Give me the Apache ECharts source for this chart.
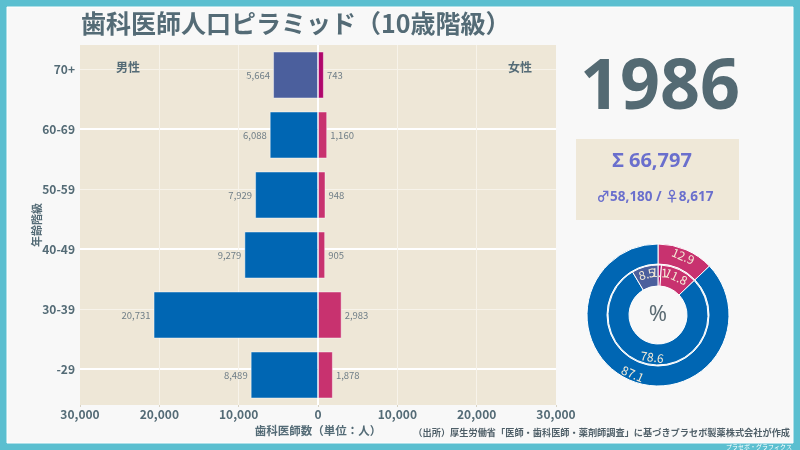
<!DOCTYPE html>
<html><head><meta charset="utf-8">
<script src="https://cdn.jsdelivr.net/npm/echarts@6/dist/echarts.min.js"></script>
<style>html,body{margin:0;padding:0;background:#5bbfd0}#c{width:800px;height:450px}</style>
</head><body><div id="c"></div>
<script>
const year = '1986';
const ageGroups = ['70+', '60-69', '50-59', '40-49', '30-39', '-29'];
const male = [5664, 6088, 7929, 9279, 20731, 8489];
const female = [743, 1160, 948, 905, 2983, 1878];
const xTicks = [-30000, -20000, -10000, 0, 10000, 20000, 30000];

const FONT = '"Noto Sans CJK JP", "Noto Sans", sans-serif';
const C_MALE = '#0066b3', C_MALE_HI = '#4b5f9d', C_FEM = '#c8326f', C_FEM_HI = '#b0076b';
const GRAY = '#546b76';
const fmt = v => Math.abs(v).toLocaleString('en-US');

const maleTotal = male.reduce((a, b) => a + b, 0);
const femTotal = female.reduce((a, b) => a + b, 0);
const total = maleTotal + femTotal;
const pct = v => +(v / total * 100).toFixed(1);

const chart = echarts.init(document.getElementById('c'), null, {renderer: 'canvas'});
const pieLabel = {show: true, position: 'inside', rotate: 'tangential', color: '#f3ead6', fontSize: 12, fontFamily: FONT, formatter: p => p.value.toFixed(1)};

chart.setOption({
  backgroundColor: '#5bbfd0',
  animation: false,
  textStyle: {fontFamily: FONT},
  title: {text: '歯科医師人口ピラミッド（10歳階級）', left: 76, top: 6, textStyle: {fontSize: 25, fontWeight: 'bold', color: GRAY, fontFamily: FONT}},
  graphic: [
    {type: 'rect', z: -10, shape: {x: 7, y: 7, width: 786, height: 436}, style: {fill: '#f8f8f8', stroke: '#ffffff', lineWidth: 1}},
    {type: 'text', z: 10, x: 128, y: 67, style: {text: '男性', font: 'bold 12px ' + FONT, fill: GRAY, align: 'center', verticalAlign: 'middle'}},
    {type: 'text', z: 10, x: 520, y: 67, style: {text: '女性', font: 'bold 12px ' + FONT, fill: GRAY, align: 'center', verticalAlign: 'middle'}},
    {type: 'text', x: 660, y: 89, style: {text: year, font: 'bold 70px "Noto Sans", ' + FONT, fill: '#546a73', align: 'center', verticalAlign: 'middle'}},
    {type: 'rect', shape: {x: 576, y: 139, width: 163, height: 81}, style: {fill: '#efe8d8'}},
    {type: 'text', x: 652, y: 161, style: {text: 'Σ ' + total.toLocaleString('en-US'), font: 'bold 20px "Noto Sans", ' + FONT, fill: '#6a6fcd', align: 'center', verticalAlign: 'middle'}},
    {type: 'text', x: 655, y: 197, style: {text: '♂' + maleTotal.toLocaleString('en-US') + ' / ♀' + femTotal.toLocaleString('en-US'), font: 'bold 13.5px "Noto Sans", ' + FONT, fill: '#6a6fcd', align: 'center', verticalAlign: 'middle'}},
    {type: 'text', z: 10, x: 658, y: 315, style: {text: '%', font: '22px "Noto Sans", ' + FONT, fill: '#5b6b73', align: 'center', verticalAlign: 'middle'}},
    {type: 'text', x: 790, y: 433, style: {text: '（出所）厚生労働省「医師・歯科医師・薬剤師調査」に基づきプラセボ製薬株式会社が作成', font: 'bold 9.2px ' + FONT, fill: '#4f5f68', align: 'right', verticalAlign: 'middle'}},
    {type: 'text', x: 792, y: 447, style: {text: 'プラセボ・グラフィクス', font: '6px ' + FONT, fill: '#ffffff', align: 'right', verticalAlign: 'middle'}}
  ],
  grid: [
    {left: 80, right: 244, top: 45, bottom: 45, show: true, backgroundColor: '#eee7d7', borderWidth: 0},
    {left: 80, right: 244, top: 69, bottom: 81, show: false}
  ],
  xAxis: [
    {type: 'value', gridIndex: 0, min: xTicks[0], max: xTicks[xTicks.length - 1], interval: xTicks[1] - xTicks[0],
     axisLine: {show: false}, axisTick: {show: true, length: 2, lineStyle: {color: '#d8d2c4'}},
     axisLabel: {margin: 3, fontSize: 12, fontWeight: 'bold', color: GRAY, formatter: v => fmt(v)},
     splitLine: {show: true, showMinLine: false, showMaxLine: false, lineStyle: {color: '#f7f3ea', width: 1}},
     name: '歯科医師数（単位：人）', nameLocation: 'middle', nameGap: 16, nameTextStyle: {fontSize: 11.5, fontWeight: 'bold', color: GRAY}},
    {type: 'value', gridIndex: 0, min: -30000, max: 30000, interval: 30000, position: 'top',
     axisLine: {show: false}, axisTick: {show: false}, axisLabel: {show: false},
     splitLine: {show: true, showMinLine: false, showMaxLine: false, lineStyle: {color: '#ffffff', width: 2}}},
    {type: 'value', gridIndex: 1, min: -30000, max: 30000, show: false, splitLine: {show: false}}
  ],
  yAxis: [
    {type: 'category', gridIndex: 0, data: ageGroups, inverse: true,
     axisLine: {show: false}, axisTick: {show: false}, axisLabel: {show: false}, splitLine: {show: false},
     name: '年齢階級', nameLocation: 'middle', nameGap: 38, nameTextStyle: {fontSize: 11, fontWeight: 'bold', color: GRAY}},
    {type: 'category', gridIndex: 1, data: ageGroups, inverse: true, boundaryGap: false,
     axisLine: {show: false}, axisTick: {show: true, length: 3, lineStyle: {color: '#d5cfc2'}},
     axisLabel: {fontSize: 12, fontWeight: 'bold', color: GRAY, margin: 5},
     splitLine: {show: true, interval: (i) => i % 2 === 1, lineStyle: {color: '#ffffff', width: 2}}},
    {type: 'category', gridIndex: 1, data: ageGroups, inverse: true, boundaryGap: false,
     axisLine: {show: false}, axisTick: {show: false}, axisLabel: {show: false},
     splitLine: {show: true, interval: (i) => i % 2 === 0, lineStyle: {color: '#f7f3ea', width: 1}}}
  ],
  series: [
    {name: '男性', type: 'bar', xAxisIndex: 0, yAxisIndex: 0, barWidth: 47, barGap: '-100%', z: 3,
     data: male.map((v, i) => ({value: -v, itemStyle: {color: i === 0 ? C_MALE_HI : C_MALE}})),
     itemStyle: {borderColor: 'rgba(255,255,255,0.45)', borderWidth: 1},
     label: {show: true, position: 'left', distance: 3, fontSize: 9.5, color: '#6f7e87', formatter: p => fmt(p.value)}},
    {name: '女性', type: 'bar', xAxisIndex: 0, yAxisIndex: 0, barWidth: 47, barGap: '-100%', z: 3,
     data: female.map((v, i) => ({value: v, itemStyle: {color: i === 0 ? C_FEM_HI : C_FEM}})),
     itemStyle: {borderColor: 'rgba(255,255,255,0.45)', borderWidth: 1},
     label: {show: true, position: 'right', distance: 3, fontSize: 9.5, color: '#6f7e87', formatter: p => fmt(p.value)}},
    {type: 'pie', center: [658, 315], radius: [51, 71], startAngle: 90, clockwise: true, silent: true,
     avoidLabelOverlap: false, minShowLabelAngle: 0, labelLayout: {hideOverlap: false},
     itemStyle: {borderColor: '#ffffff', borderWidth: 1}, labelLine: {show: false}, label: pieLabel,
     data: [{value: pct(femTotal), itemStyle: {color: C_FEM}}, {value: pct(maleTotal), itemStyle: {color: C_MALE}}]},
    {type: 'pie', center: [658, 315], radius: [29, 50], startAngle: 90, clockwise: true, silent: true,
     avoidLabelOverlap: false, minShowLabelAngle: 0, labelLayout: {hideOverlap: false},
     itemStyle: {borderColor: '#ffffff', borderWidth: 1}, labelLine: {show: false}, label: pieLabel,
     data: [
       {value: pct(female[0]), itemStyle: {color: C_FEM_HI}},
       {value: pct(femTotal - female[0]), itemStyle: {color: C_FEM}},
       {value: pct(maleTotal - male[0]), itemStyle: {color: C_MALE}},
       {value: pct(male[0]), itemStyle: {color: C_MALE_HI}}
     ]}
  ]
});
</script></body></html>
